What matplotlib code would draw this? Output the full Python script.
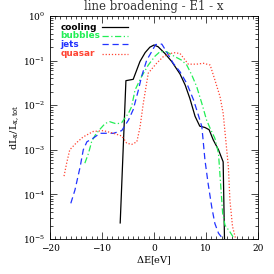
import numpy as np
import matplotlib
matplotlib.use("Agg")
import matplotlib.pyplot as plt
from matplotlib.ticker import LogLocator, MultipleLocator, NullFormatter

plt.rcParams['font.family'] = ['DejaVu Serif']
plt.rcParams['mathtext.fontset'] = 'dejavuserif'

# ---- data ----
cool_x = [-6.5, -5.4, -4.0, -2.7, -1.7, -0.8, 0.0, 0.8, 2.1, 3.4, 5.0, 6.0, 6.9, 7.9, 8.8, 9.8, 10.6, 11.4, 12.4, 13.3, 13.6]
cool_y = [-4.64, -1.45, -1.42, -1.02, -0.82, -0.70, -0.65, -0.69, -0.84, -1.02, -1.30, -1.55, -1.85, -2.25, -2.47, -2.50, -2.55, -2.78, -3.00, -3.27, -5.3]

bub_x = [-13.3, -12.6, -12.0, -11.3, -10.4, -9.4, -8.5, -7.2, -6.2, -5.6, -4.9, -4.3, -3.65, -2.4, -1.1, 0.2, 1.15, 2.4, 4.0, 5.3, 6.3, 7.25, 8.2, 9.2, 10.1, 10.8, 11.7, 12.4, 12.8, 13.2, 13.65, 14.6, 15.25, 15.5]
bub_y = [-3.30, -3.08, -2.82, -2.67, -2.54, -2.41, -2.37, -2.42, -2.39, -2.29, -2.18, -2.03, -1.66, -1.36, -1.10, -0.90, -0.80, -0.80, -0.91, -0.99, -1.10, -1.32, -1.58, -1.96, -2.33, -2.52, -2.74, -3.08, -3.75, -4.42, -4.69, -4.84, -4.96, -5.05]

jet_x = [-16.0, -15.2, -14.2, -13.6, -12.9, -11.7, -10.4, -9.4, -7.8, -6.2, -4.9, -4.0, -3.0, -2.4, -1.4, -0.45, 0.3, 1.5, 2.4, 3.7, 5.0, 6.3, 7.6, 8.6, 9.2, 9.8, 10.4, 11.1, 11.7, 12.4, 13.0, 13.8]
jet_y = [-4.20, -3.90, -3.38, -3.00, -2.82, -2.74, -2.63, -2.63, -2.63, -2.57, -2.33, -2.10, -1.66, -1.36, -0.99, -0.80, -0.64, -0.63, -0.80, -1.06, -1.25, -1.51, -1.88, -2.25, -2.48, -3.23, -3.75, -4.28, -4.65, -4.87, -4.96, -5.05]

qua_x = [-17.3, -16.8, -16.2, -14.9, -13.6, -11.7, -9.75, -7.8, -6.2, -5.25, -4.3, -3.3, -2.7, -2.05, -1.1, 0.5, 1.8, 3.7, 5.0, 6.0, 6.6, 8.2, 9.5, 10.8, 11.7, 12.7, 13.3, 13.65, 14.3, 14.6, 15.1, 15.6, 15.8]
qua_y = [-3.59, -3.30, -3.00, -2.84, -2.71, -2.59, -2.57, -2.63, -2.69, -2.85, -2.88, -2.82, -2.50, -1.95, -1.28, -1.06, -0.91, -0.82, -0.84, -0.99, -1.08, -1.08, -1.06, -1.10, -1.43, -1.81, -2.18, -2.60, -3.38, -4.13, -4.72, -4.95, -5.05]

series_names = ["cooling", "bubbles", "jets", "quasar"]
colors = ["black", "#22ee55", "#2233ff", "#ff4433"]
styles = ["-", (0, (5, 2, 1, 2)), (0, (5, 3)), (0, (1, 1.5))]

fig = plt.figure(figsize=(2.74, 2.74), dpi=100)
ax = fig.add_axes([50/274, 1-239/274, 208/274, 223/274])

data = [(cool_x, cool_y), (bub_x, bub_y), (jet_x, jet_y), (qua_x, qua_y)]
for (xs, ys), c, ls in zip(data, colors, styles):
    ax.plot(xs, 10**np.array(ys), color=c, ls=ls, lw=0.9)

ax.set_yscale("log")
ax.set_xlim(-20, 20)
ax.set_ylim(1e-5, 1)
ax.xaxis.set_major_locator(MultipleLocator(10))
ax.xaxis.set_minor_locator(MultipleLocator(1))
ax.yaxis.set_major_locator(LogLocator(base=10, numticks=10))
ax.yaxis.set_minor_locator(LogLocator(base=10, subs=np.arange(2, 10), numticks=20))
ax.yaxis.set_minor_formatter(NullFormatter())
ax.tick_params(which="both", direction="in", top=True, right=True, labelsize=6.5, width=0.5)
ax.tick_params(which="major", length=5)
ax.tick_params(which="minor", length=2.5)
for s in ax.spines.values():
    s.set_linewidth(0.6)

ax.set_title("line broadening - E1 - x", fontsize=8.5, pad=4, color="#333333")
ax.set_xlabel(r"$\Delta$E[eV]", fontsize=7, labelpad=1)
ax.set_ylabel(r"dL$_{\rm x}$/L$_{\rm x,tot}$", fontsize=7, labelpad=1)

ys_leg = [0.95, 0.912, 0.874, 0.83]
for name, c, ls, yl in zip(series_names, colors, styles, ys_leg):
    ax.text(0.05, yl, name, color=c, fontsize=6.4, fontweight="bold",
            family="DejaVu Sans", transform=ax.transAxes, va="center", ha="left")
    ax.plot([0.25, 0.375], [yl, yl], color=c, ls=ls, lw=0.9, transform=ax.transAxes)

fig.savefig("out.png", dpi=100)
